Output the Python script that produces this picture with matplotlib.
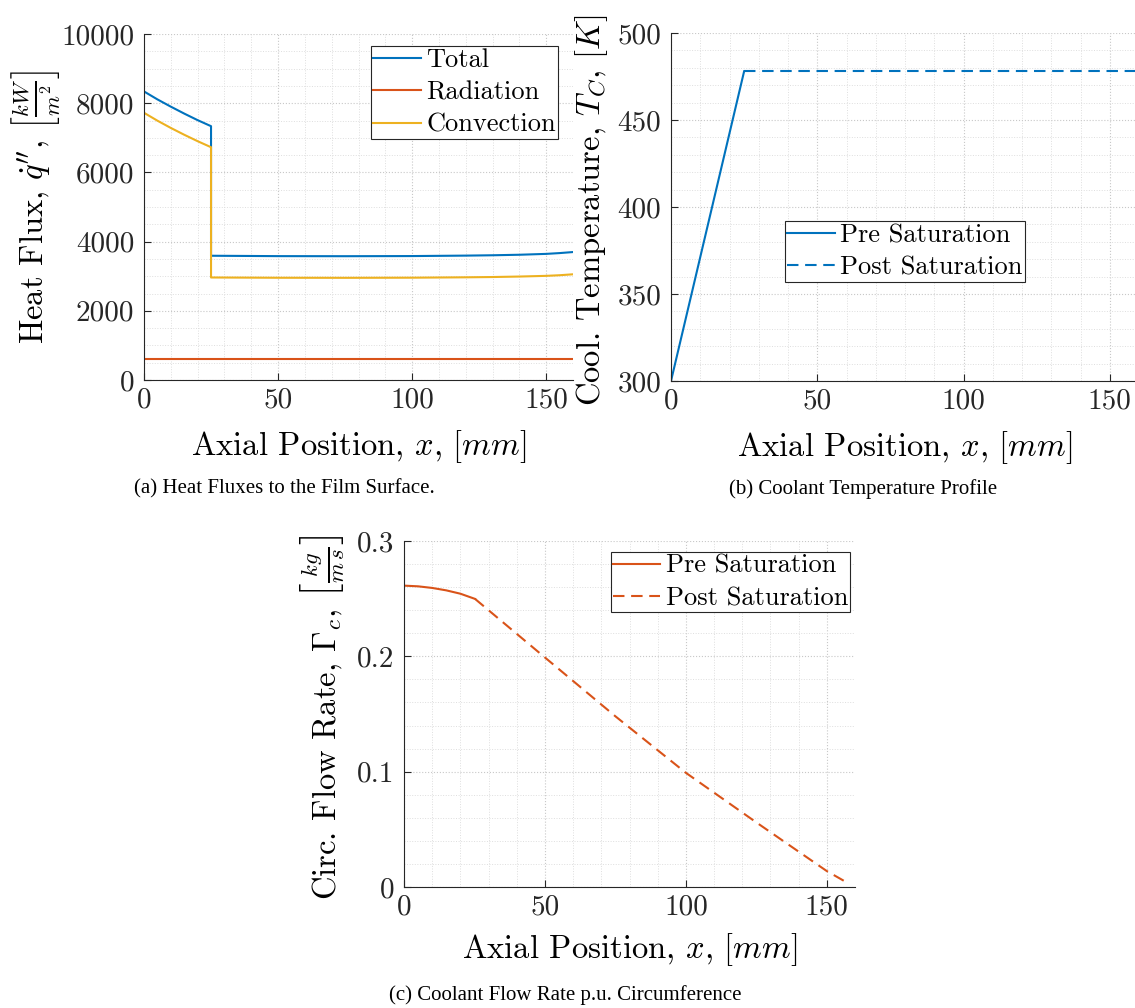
import numpy as np
import matplotlib
matplotlib.use("Agg")
import matplotlib.pyplot as plt
from matplotlib.ticker import MultipleLocator

plt.rcParams['font.family'] = 'cmr10'
plt.rcParams['mathtext.fontset'] = 'cm'
plt.rcParams['axes.formatter.use_mathtext'] = True

# matlab default colours
c_blue = '#0072BD'
c_red = '#D95319'
c_yel = '#EDB120'

# (a) heat fluxes, kW/m^2
x_pre = [0, 5, 10, 15, 20, 25]
q_total_pre = [8340, 8110, 7900, 7700, 7510, 7336]
q_conv_pre = [7723, 7495, 7285, 7088, 6902, 6728]
x_post = [25, 50, 75, 100, 120, 130, 140, 150, 155, 160]
q_total_post = [3591, 3580, 3578, 3582, 3595, 3605, 3620, 3645, 3668, 3698]
q_conv_post = [2963, 2955, 2953, 2957, 2968, 2976, 2990, 3010, 3028, 3055]
x_rad = [0, 160]
q_rad = [612, 612]

# (b) coolant temperature, K
xT_pre = [0, 25]
T_pre = [300, 478]
xT_post = [25, 160]
T_post = [478, 478]

# (c) flow rate p.u. circumference, kg/(m s)
xG_pre = [0, 5, 10, 15, 20, 25.2]
G_pre = [0.2613, 0.2607, 0.2593, 0.2572, 0.2543, 0.2498]
xG_post = [25.2, 50, 75, 100, 125, 150, 157.4]
G_post = [0.2498, 0.199, 0.148, 0.099, 0.056, 0.0138, 0.0035]

x_ticks = [0, 50, 100, 150]
qa_ticks = [0, 2000, 4000, 6000, 8000, 10000]
Tb_ticks = [300, 350, 400, 450, 500]
Gc_ticks = [0, 0.1, 0.2, 0.3]
Gc_labels = ['0', '0.1', '0.2', '0.3']

xlab = r'Axial Position, $x$, $[mm]$'
dash = (0, (5.5, 3.2))
W, H = 1135, 1008
LFS = 23.5


def style(ax, xminor, yminor):
    ax.set_xlim(0, 160)
    for s in ['top', 'right']:
        ax.spines[s].set_visible(False)
    for s in ['left', 'bottom']:
        ax.spines[s].set_color('#262626')
        ax.spines[s].set_linewidth(0.8)
    ax.xaxis.set_minor_locator(MultipleLocator(xminor))
    ax.yaxis.set_minor_locator(MultipleLocator(yminor))
    ax.grid(True, which='major', linestyle=':', color='#c8c8c8', linewidth=0.8)
    ax.grid(True, which='minor', linestyle=':', color='#dedede', linewidth=0.7)
    ax.set_axisbelow(True)
    ax.tick_params(which='major', direction='in', length=5, width=0.8,
                   color='#262626', labelsize=21, labelcolor='#262626')
    ax.tick_params(axis='x', which='major', pad=5)
    ax.tick_params(axis='y', which='major', pad=7)
    ax.tick_params(which='minor', length=0)


def legend(ax, loc, anchor):
    lg = ax.legend(loc=loc, bbox_to_anchor=anchor, fontsize=19, frameon=True,
                   fancybox=False, framealpha=1, edgecolor='#262626',
                   handlelength=1.8, handletextpad=0.2, labelspacing=0.33,
                   borderpad=0.08, borderaxespad=0)
    lg.get_frame().set_linewidth(0.8)
    return lg


fig = plt.figure(figsize=(W / 100, H / 100), dpi=100)

# (a)
ax1 = fig.add_axes([144 / W, 1 - 380 / H, 429 / W, 346 / H])
ax1.plot(x_pre + x_post, q_total_pre + q_total_post, color=c_blue, lw=1.5, label='Total')
ax1.plot(x_rad, q_rad, color=c_red, lw=1.5, label='Radiation')
ax1.plot(x_pre + x_post, q_conv_pre + q_conv_post, color=c_yel, lw=1.5, label='Convection')
style(ax1, 10, 500)
ax1.set_ylim(0, 10000)
ax1.set_xticks(x_ticks)
ax1.set_xticklabels([str(v) for v in x_ticks])
ax1.set_yticks(qa_ticks)
ax1.set_yticklabels([str(v) for v in qa_ticks])
ax1.set_xlabel(xlab, fontsize=LFS, va='center')
ax1.xaxis.set_label_coords(0.5, -0.191)
ax1.set_ylabel(r'Heat Flux, $\dot{q}^{\prime\prime}$, $\left[\frac{kW}{m^2}\right]$',
               fontsize=LFS, va='center')
ax1.yaxis.set_label_coords(-0.254, 0.5)
legend(ax1, 'upper right', (0.965, 0.965))

# (b)
ax2 = fig.add_axes([671 / W, 1 - 381 / H, 468 / W, 348 / H])
ax2.plot(xT_pre, T_pre, color=c_blue, lw=1.5, label='Pre Saturation')
ax2.plot(xT_post, T_post, color=c_blue, lw=1.5, linestyle=dash, label='Post Saturation')
style(ax2, 10, 10)
ax2.set_ylim(300, 500)
ax2.set_xticks(x_ticks)
ax2.set_xticklabels([str(v) for v in x_ticks])
ax2.set_yticks(Tb_ticks)
ax2.set_yticklabels([str(v) for v in Tb_ticks])
ax2.set_xlabel(xlab, fontsize=LFS, va='center')
ax2.xaxis.set_label_coords(0.5, -0.19)
ax2.set_ylabel(r'Cool. Temperature, $T_C$, $[K]$', fontsize=LFS, va='center')
ax2.yaxis.set_label_coords(-0.169, 0.49)
legend(ax2, 'center', (0.5, 0.372))

# (c)
ax3 = fig.add_axes([404 / W, 1 - 887 / H, 451 / W, 346 / H])
ax3.plot(xG_pre, G_pre, color=c_red, lw=1.5, label='Pre Saturation')
ax3.plot(xG_post, G_post, color=c_red, lw=1.5, linestyle=dash, label='Post Saturation')
style(ax3, 10, 0.02)
ax3.set_ylim(0, 0.3)
ax3.set_xticks(x_ticks)
ax3.set_xticklabels([str(v) for v in x_ticks])
ax3.set_yticks(Gc_ticks)
ax3.set_yticklabels(Gc_labels)
ax3.set_xlabel(xlab, fontsize=LFS, va='center')
ax3.xaxis.set_label_coords(0.5, -0.182)
ax3.set_ylabel(r'Circ. Flow Rate, $\Gamma_c$, $\left[\frac{kg}{m\,s}\right]$',
               fontsize=LFS, va='center')
ax3.yaxis.set_label_coords(-0.182, 0.49)
legend(ax3, 'upper right', (0.989, 0.968))

# captions
cap = dict(fontsize=15, family='Liberation Serif', ha='center', va='center')
fig.text(284 / W, 1 - 489 / H, '(a) Heat Fluxes to the Film Surface.', **cap)
fig.text(863 / W, 1 - 489 / H, '(b) Coolant Temperature Profile', **cap)
fig.text(565 / W, 1 - 995 / H, '(c) Coolant Flow Rate p.u. Circumference', **cap)

fig.savefig('out.png', dpi=100)
